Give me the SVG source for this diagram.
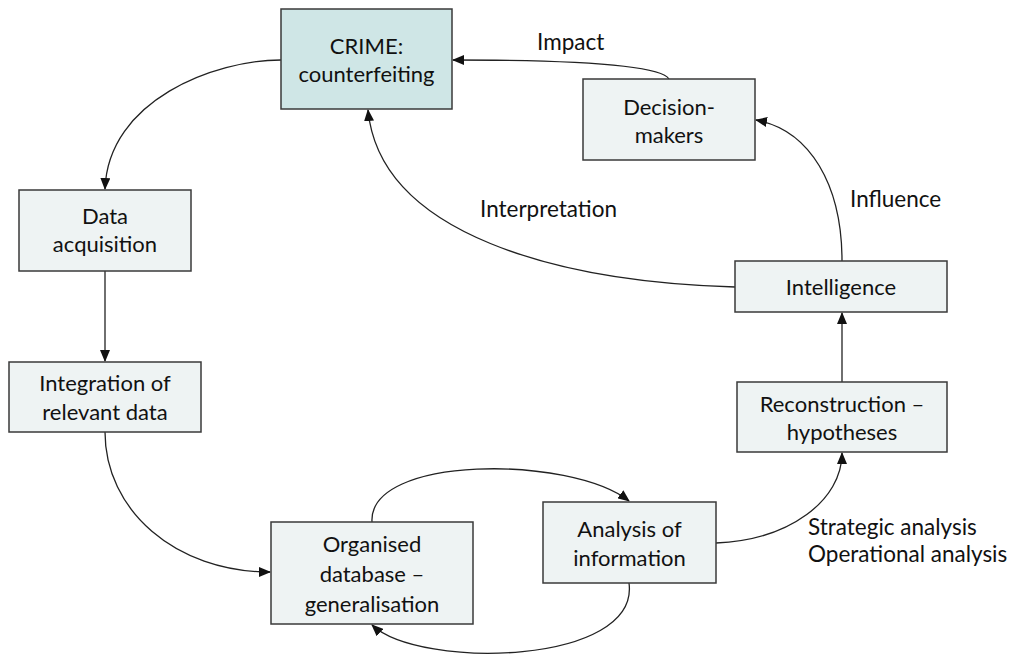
<svg xmlns="http://www.w3.org/2000/svg" width="1018" height="657" viewBox="0 0 1018 657">
<style>
.box{fill:#eef3f3;stroke:#3a3a3a;stroke-width:1.5}
.crime{fill:#cfe6e6}
.t{font-family:Lato,"Liberation Sans",sans-serif;font-size:22px;fill:#111;text-anchor:middle}
.l{font-family:Lato,"Liberation Sans",sans-serif;font-size:22.5px;fill:#111}
.c{fill:none;stroke:#222;stroke-width:1.3}
</style>
<defs>
<marker id="ah" markerUnits="userSpaceOnUse" markerWidth="12" markerHeight="10" viewBox="0 0 12 10" refX="11" refY="5" orient="auto">
<path d="M0,0 L12,5 L0,10 Z" fill="#111"/>
</marker>
</defs>
<rect width="1018" height="657" fill="#fff"/>
<g id="connectors">
<path class="c" d="M281,60 C215,60 108,100 105,189" marker-end="url(#ah)"/>
<path class="c" d="M105,271 L105,361" marker-end="url(#ah)"/>
<path class="c" d="M105,432 C105,510 175,572 270,572" marker-end="url(#ah)"/>
<path class="c" d="M372,522 C368,455 570,455 629,501" marker-end="url(#ah)"/>
<path class="c" d="M629,583 C640,665 420,670 372,625" marker-end="url(#ah)"/>
<path class="c" d="M716,543 C790,540 842,500 842,453" marker-end="url(#ah)"/>
<path class="c" d="M842,382 L842,313" marker-end="url(#ah)"/>
<path class="c" d="M842,261 C842,185 810,130 756,120" marker-end="url(#ah)"/>
<path class="c" d="M735,287 C560,282 380,235 368,110" marker-end="url(#ah)"/>
<path class="c" d="M669,79 C660,64 560,60 453,60" marker-end="url(#ah)"/>
</g>
<g id="crime"><rect class="box crime" x="281" y="9" width="171" height="100"/>
<text class="t" x="366.5" y="54">CRIME:</text><text class="t" x="366.5" y="82">counterfeiting</text></g>
<g id="decision"><rect class="box" x="583" y="79" width="172" height="81"/>
<text class="t" x="669" y="115">Decision-</text><text class="t" x="669" y="143">makers</text></g>
<g id="data"><rect class="box" x="19" y="190" width="172" height="81"/>
<text class="t" x="105" y="224">Data</text><text class="t" x="105" y="252">acquisition</text></g>
<g id="integration"><rect class="box" x="9" y="362" width="192" height="70"/>
<text class="t" x="105" y="391">Integration of</text><text class="t" x="105" y="420">relevant data</text></g>
<g id="organised"><rect class="box" x="271" y="522" width="202" height="102"/>
<text class="t" x="372" y="552">Organised</text><text class="t" x="372" y="582">database –</text><text class="t" x="372" y="612">generalisation</text></g>
<g id="analysis"><rect class="box" x="543" y="502" width="173" height="81"/>
<text class="t" x="629.5" y="537">Analysis of</text><text class="t" x="629.5" y="566">information</text></g>
<g id="intelligence"><rect class="box" x="735" y="261" width="212" height="51"/>
<text class="t" x="841" y="295">Intelligence</text></g>
<g id="reconstruction"><rect class="box" x="737" y="382" width="210" height="70"/>
<text class="t" x="842" y="412">Reconstruction –</text><text class="t" x="842" y="440">hypotheses</text></g>
<g id="labels">
<text class="l" x="537" y="50">Impact</text>
<text class="l" x="480" y="217">Interpretation</text>
<text class="l" x="850" y="207">Influence</text>
<text class="l" x="808" y="535">Strategic analysis</text>
<text class="l" x="808" y="562">Operational analysis</text>
</g>
</svg>
